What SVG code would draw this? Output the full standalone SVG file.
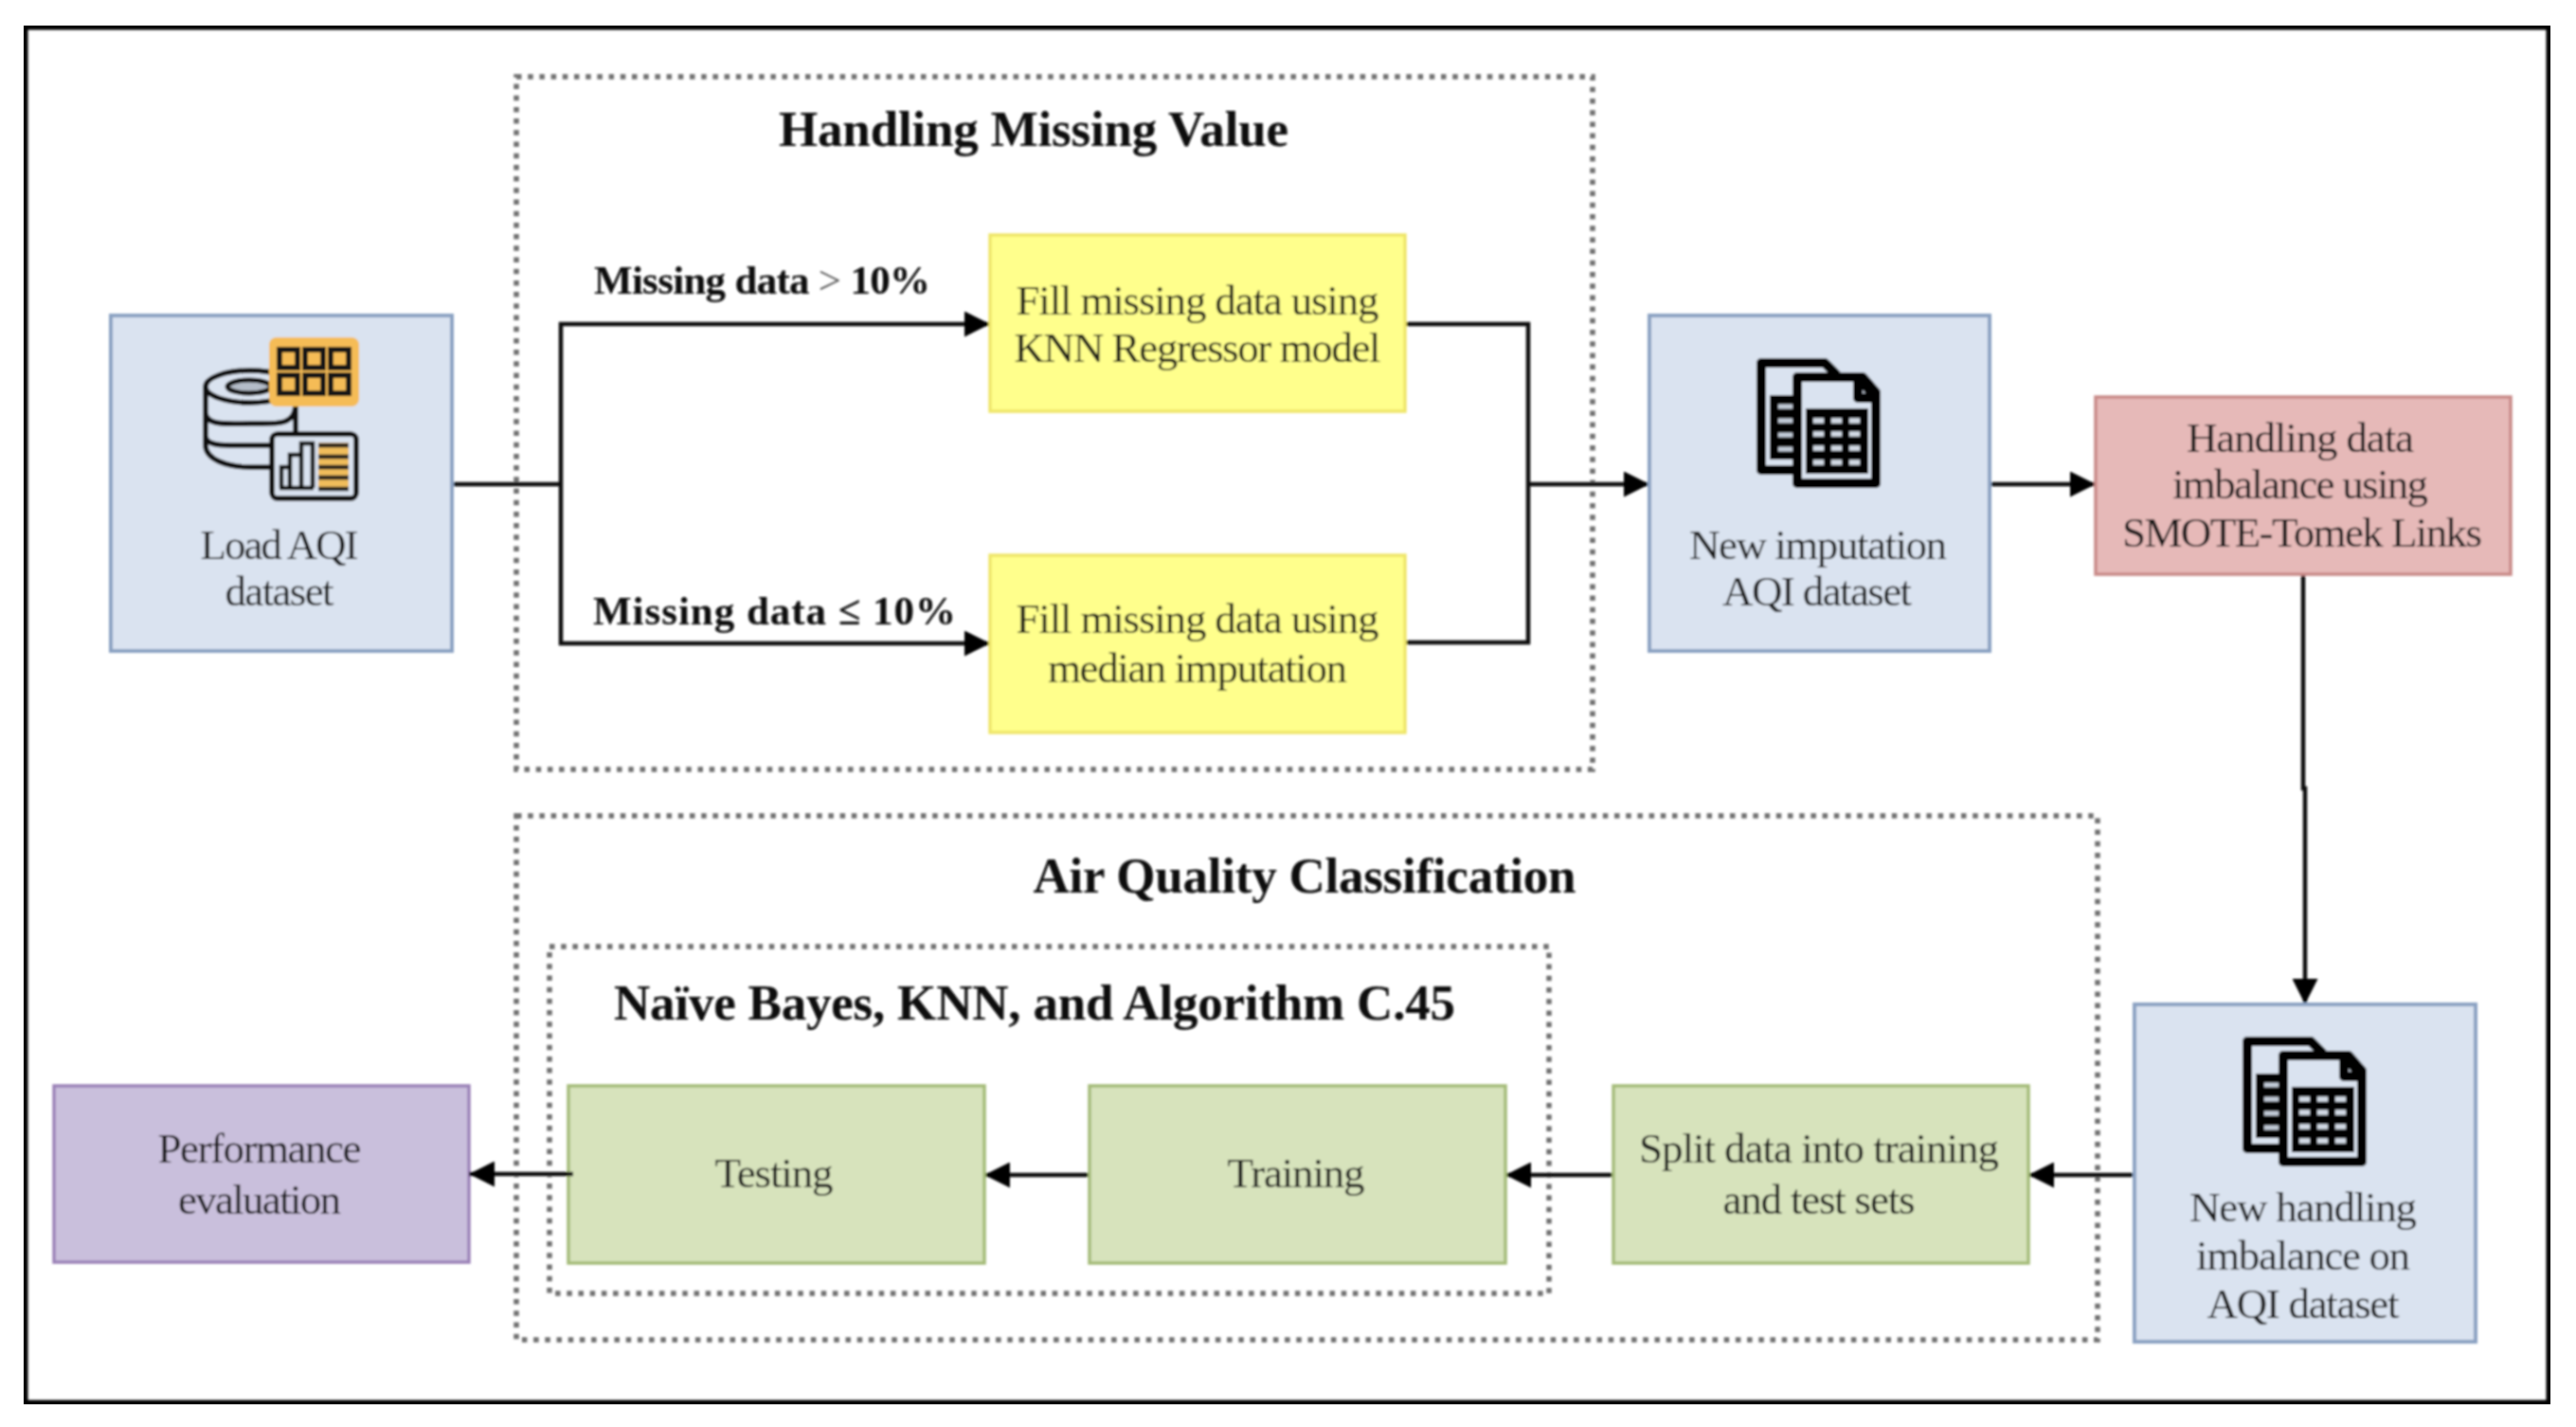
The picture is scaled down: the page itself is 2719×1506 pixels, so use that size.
<svg xmlns="http://www.w3.org/2000/svg" xmlns:xlink="http://www.w3.org/1999/xlink" width="2719" height="1506" viewBox="0 0 2719 1506">
<style>
text{font-family:"Liberation Serif","Times New Roman",serif;font-size:45px;fill:#141414;text-anchor:middle}
.b{font-weight:bold;fill:#0a0a0a}
.t{font-size:53px}
.l{font-size:43px;text-anchor:start}
.thin{font-weight:normal;fill:#555}
.dot{fill:none;stroke:#707070;stroke-width:5.5;stroke-dasharray:5.5 6.7}
.blue{fill:#dae3f0;stroke:#8ba2c2;stroke-width:4}
.yel{fill:#ffff8c;stroke:#efe66a;stroke-width:3.5}
.pink{fill:#e6b9b8;stroke:#c98a88;stroke-width:3.5}
.pur{fill:#c9bfdc;stroke:#9b82b8;stroke-width:3.5}
.grn{fill:#d7e3bc;stroke:#a5bc79;stroke-width:3.5}
.c{fill:none;stroke:#111;stroke-width:4.5}
.k{fill:none;stroke:#111;stroke-width:5.5}
.k9{fill:none;stroke:#050505;stroke-width:10;stroke-linejoin:round}
</style>
<defs>
<filter id="soft" x="0" y="0" width="100%" height="100%"><feGaussianBlur stdDeviation="0.9"/></filter>
<marker id="ah" viewBox="0 0 10 10" refX="10" refY="5" markerUnits="userSpaceOnUse" markerWidth="27" markerHeight="27" orient="auto"><path d="M0 0L10 5L0 10Z" fill="#000"/></marker>
<g id="docs">
<path class="k9" d="M38 118H5V5H72L85 18"/>
<rect x="14" y="39" width="26" height="68" fill="#050505"/>
<path d="M23 51h16M23 66h16M23 81h16M23 96h16" stroke="#c3ccd8" stroke-width="5" fill="none"/>
<path class="k9" style="fill:#dae3f0" d="M43 132V20H112L126 36V132Z"/>
<path class="k9" style="fill:#c7d0dc" d="M107 20V42H126Z"/>
<rect x="52" y="53" width="66" height="69" fill="#050505"/>
<path d="M60 66h11M79 66h11M98 66h11M60 80h11M79 80h11M98 80h11M60 95h11M79 95h11M98 95h11M60 110h11M79 110h11M98 110h11" stroke="#d3dbe6" stroke-width="5.5" fill="none"/>
</g>
</defs>
<rect width="2719" height="1506" fill="#fff"/>
<g filter="url(#soft)">
<rect id="frame" x="25.5" y="27.5" width="2666" height="1454" fill="none" stroke="#000" stroke-width="8"/>
<g id="regions">
<rect class="dot" x="545" y="81" width="1136" height="731"/>
<rect class="dot" x="545" y="861" width="1669" height="553"/>
<rect class="dot" x="580" y="999" width="1055" height="366"/>
<text class="b t" x="1091" y="154" textLength="538">Handling Missing Value</text>
<text class="b t" x="1377" y="942" textLength="573">Air Quality Classification</text>
<text class="b t" x="1092" y="1076" textLength="888">Naïve Bayes, KNN, and Algorithm C.45</text>
</g>
<g id="connectors">
<path class="c" d="M477 511H592M1483 342H1613V678H1483"/>
<path class="c" marker-end="url(#ah)" d="M592 511V342H1045"/>
<path class="c" marker-end="url(#ah)" d="M592 511V679H1045"/>
<path class="c" marker-end="url(#ah)" d="M1613 511H1741"/>
<path class="c" marker-end="url(#ah)" d="M2100 511H2212"/>
<path class="c" marker-end="url(#ah)" d="M2431 607V832H2433V1060"/>
<path class="c" marker-end="url(#ah)" d="M2256 1240H2141"/>
<path class="c" marker-end="url(#ah)" d="M1703 1240H1589"/>
<path class="c" marker-end="url(#ah)" d="M1150 1240H1039"/>
<text class="b l" x="627" y="310" textLength="355">Missing data <tspan class="thin">&gt;</tspan> 10%</text>
<text class="b l" x="626" y="659" textLength="383">Missing data ≤ 10%</text>
</g>
<g id="load">
<rect class="blue" x="117" y="333" width="360" height="354"/>
<g id="dbicon">
<ellipse class="k" cx="264" cy="408" rx="47" ry="17"/>
<ellipse cx="263" cy="408" rx="23" ry="7" fill="#b4bcc8" stroke="#111" stroke-width="5"/>
<path class="k" d="M217 408V470C217 485 240 493 265 493H290M217 435C217 450 240 447 265 447C290 447 311 450 312 428M217 460C217 472 240 470 265 470H290M312 428V460"/>
<rect x="284" y="356" width="95" height="73" rx="8" fill="#f5bc57"/>
<g fill="none" stroke="#151515" stroke-width="6"><rect x="295" y="369" width="19" height="19"/><rect x="322" y="369" width="19" height="19"/><rect x="349" y="369" width="19" height="19"/><rect x="295" y="396" width="19" height="19"/><rect x="322" y="396" width="19" height="19"/><rect x="349" y="396" width="19" height="19"/></g>
<rect x="287" y="458" width="89" height="68" rx="6" fill="#dae3f0" stroke="#111" stroke-width="5.5"/>
<path d="M297 515V493H306V515M306 515V480H318V515M318 515V468H330V515M295 515H331" fill="none" stroke="#111" stroke-width="4.5"/>
<rect x="336" y="467" width="32" height="50" fill="#f0bd5c"/>
<path d="M336 470H368M336 482H368M336 493H368M336 504H368M336 516H368" stroke="#1a1a1a" stroke-width="4.5"/>
</g>
<text x="295" y="590" textLength="167">Load AQI</text>
<text x="295" y="639" textLength="115">dataset</text>
</g>
<g id="knn">
<rect class="yel" x="1045" y="248" width="438" height="186"/>
<text x="1264" y="332" textLength="383">Fill missing data using</text>
<text x="1264" y="382" textLength="387">KNN Regressor model</text>
</g>
<g id="median">
<rect class="yel" x="1045" y="586" width="438" height="187"/>
<text x="1264" y="668" textLength="383">Fill missing data using</text>
<text x="1264" y="720" textLength="316">median imputation</text>
</g>
<g id="newimp">
<rect class="blue" x="1741" y="333" width="359" height="354"/>
<use xlink:href="#docs" href="#docs" x="1854" y="378"/>
<text x="1919" y="590" textLength="272">New imputation</text>
<text x="1918" y="639" textLength="200">AQI dataset</text>
</g>
<g id="smote">
<rect class="pink" x="2212" y="419" width="438" height="187"/>
<text x="2428" y="477" textLength="240">Handling data</text>
<text x="2428" y="526" textLength="270">imbalance using</text>
<text x="2430" y="577" textLength="380">SMOTE-Tomek Links</text>
</g>
<g id="newimb">
<rect class="blue" x="2253" y="1060" width="360" height="356"/>
<use xlink:href="#docs" href="#docs" x="2367" y="1094"/>
<text x="2431" y="1289" textLength="240">New handling</text>
<text x="2431" y="1340" textLength="226">imbalance on</text>
<text x="2431" y="1391" textLength="203">AQI dataset</text>
</g>
<g id="split">
<rect class="grn" x="1703" y="1146" width="438" height="187"/>
<text x="1920" y="1227" textLength="380">Split data into training</text>
<text x="1920" y="1281" textLength="203">and test sets</text>
</g>
<g id="training">
<rect class="grn" x="1150" y="1146" width="439" height="187"/>
<text x="1368" y="1253" textLength="145">Training</text>
</g>
<g id="testing">
<rect class="grn" x="600" y="1146" width="439" height="187"/>
<text x="817" y="1253" textLength="125">Testing</text>
</g>
<g id="perf">
<rect class="pur" x="57" y="1146" width="438" height="186"/>
<text x="274" y="1227" textLength="215">Performance</text>
<text x="274" y="1281" textLength="172">evaluation</text>
</g>
<g id="connector-testing">
<path class="c" marker-end="url(#ah)" d="M605 1239H495"/>
</g>
</g>
</svg>
